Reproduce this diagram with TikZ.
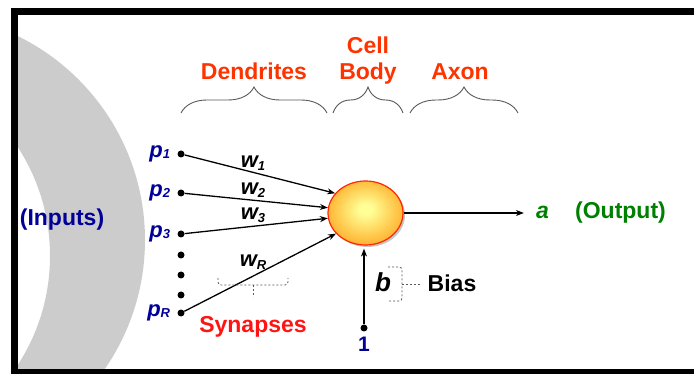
\documentclass[tikz,border=0pt]{standalone}
\usepackage{fontspec}
\setmainfont{Liberation Sans}
\usetikzlibrary{arrows.meta,positioning,decorations.pathreplacing,shapes.geometric,shadows}
\definecolor{hot}{RGB}{255,51,0}
\definecolor{syn}{RGB}{255,20,20}
\definecolor{navy}{RGB}{0,0,153}
\definecolor{outg}{RGB}{0,128,0}
\definecolor{ring}{RGB}{204,204,204}
\definecolor{somain}{RGB}{255,255,150}
\definecolor{somamid}{RGB}{255,200,75}
\definecolor{somaout}{RGB}{250,150,25}
\definecolor{rim}{RGB}{255,40,0}
\pgfdeclareradialshading{somaball}{\pgfpoint{0bp}{3bp}}{color(0bp)=(somain); color(4bp)=(somain); color(20bp)=(somamid); color(35bp)=(somaout); color(50bp)=(somaout)}
\newcommand{\wsub}[2][-3pt]{\raisebox{#1}{\fontsize{13}{14}\selectfont #2}}
\tikzset{
  part/.style={font=\fontsize{23}{26}\selectfont\bfseries,text=hot,anchor=base,inner sep=0pt},
  note/.style={font=\fontsize{23}{26}\selectfont\bfseries,anchor=base,inner sep=0pt},
  inp/.style={font=\fontsize{22}{24}\selectfont\bfseries\itshape,text=navy,inner sep=0pt},
  wt/.style={font=\fontsize{22}{24}\selectfont\bfseries\itshape,inner sep=0pt},
  dot/.style={circle,fill=black,inner sep=0pt,minimum size=7pt},
  arr/.style={-{Stealth[length=8pt,width=6pt]},line width=1.3pt},
  brc/.style={decorate,decoration={brace,amplitude=#1},draw=black!65,line width=0.9pt},
  dsh/.style={draw=black!65,dash pattern=on 2pt off 2pt,line width=0.8pt,rounded corners=3pt}
}

\begin{document}
\begin{tikzpicture}[x=1pt,y=-1pt]
\useasboundingbox (0,0) rectangle (694,374);
% grey band on the left
\begin{scope}
  \clip (18,15) rectangle (694,369);
  \fill[ring,even odd rule] (-82,240) circle[radius=227pt] (-150,256) circle[radius=200pt];
\end{scope}
% frame
\fill (11,8) rectangle (694,15);
\fill (11,8) rectangle (18,374);
\fill (11,369) rectangle (694,374);
% cell
\node[ellipse,minimum width=75pt,minimum height=64pt,inner sep=0pt,draw=rim,line width=1.2pt,
  shading=somaball,drop shadow={shadow xshift=2pt,shadow yshift=-2pt,opacity=.45}] (soma) at (365.5,213) {};
% parts
\node[part] (dend) at (254,80) {Dendrites};
\node[part] (cell) at (368,54) {Cell};
\node[part] (body) at (368,80) {Body};
\node[part] (axon) at (460,80) {Axon};
\draw[brc=26pt] (181,113) -- (327,113);
\draw[brc=26pt] (333,113) -- (403,113);
\draw[brc=26pt] (410,113) -- (518,113);
% inputs
\foreach \n/\y in {1/154,2/193,3/234,R/313}
  \node[dot] (in\n) at (181,\y) {};
\foreach \n in {1,2,3,R}
  \node[inp,left=7pt of in\n] (p\n) {p\wsub[-1pt]{\n}};
\foreach \y in {255,275,295}
  \node[dot] at (181,\y) {};
\node[note,text=navy] (inputs) at (62,226) {(Inputs)};
% weights
\foreach \n/\y in {1/163,2/190,3/215,R/262}
  \node[wt] (w\n) at (253,\y) {w\wsub{\n}};
\foreach \n/\a in {1/147,2/172,3/188,R/215}
  \draw[arr] (in\n) -- (soma.\a);
\draw[dsh] (218,278) -- (218,285) -- (288,285) -- (288,278);
\draw[dsh] (253,285) -- (253,297);
\node[note,text=syn] (syn) at (253,333) {Synapses};
% bias
\node[dot] (one) at (364,328) {};
\node[note,text=navy,font=\fontsize{21}{24}\selectfont\bfseries] (onelbl) at (364,352) {1};
\draw[arr,shorten >=3pt] (one) -- (one |- soma.south);
\node[note,font=\fontsize{26}{28}\selectfont\bfseries\itshape] (b) at (383,292) {b};
\draw[dsh] (388,267) -- (402,267) -- (402,301) -- (388,301);
\coordinate (btip) at (402,284);
\node[note] (bias) at (452,292) {Bias};
\draw[dsh] (btip) -- ([xshift=-8pt]bias.west |- btip);
% output
\node[note,text=outg,font=\fontsize{23}{26}\selectfont\bfseries\itshape] (a) at (542.5,219) {a};
\node[note,text=outg] (out) at (620.5,219) {(Output)};
\draw[arr,shorten >=12pt] (soma.east) -- (soma.east -| a.west);
\end{tikzpicture}
\end{document}
